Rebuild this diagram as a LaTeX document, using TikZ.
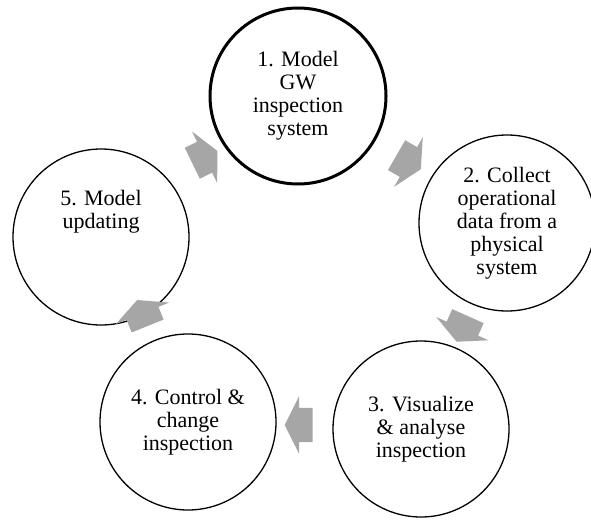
\documentclass[tikz,border=0pt]{standalone}
\usepackage{fontspec}
\setmainfont{Liberation Serif}
\newfontfamily\stageFamily{Liberation Serif}
\usepackage{tikz}
\usetikzlibrary{shapes.arrows}
\definecolor{arrowgray}{RGB}{166,166,166}
\newcommand{\stageSize}{176pt}
\newcommand{\stageFont}{\stageFamily\fontsize{22}{23}\selectfont}

\begin{document}
\begin{tikzpicture}[x=1pt, y=-1pt,
		stage/.style={circle, draw, line width=1.3pt, minimum size=\stageSize, inner sep=0pt, align=center, font=\stageFont},
		cyclearrow/.style={single arrow, fill=arrowgray, draw=none, inner xsep=0pt, inner ysep=17pt, minimum height=28pt, single arrow head extend=11.5pt, single arrow tip angle=127}]
		\useasboundingbox (0,0) rectangle (591,519);
		% the five stages
		\node[stage, line width=3pt] (model) at (298,96) {1. Model\\GW\\inspection\\system};
		\node[stage] (collect) at (507,223) {2. Collect\\operational\\data from a\\physical\\system};
		\node[stage] (visual) at (421,429) {3. Visualize\\\& analyse\\inspection};
		\node[stage] (control) at (188,422) {4. Control \&\\change\\inspection};
		\node[stage, text depth=55pt] (update) at (101,237) {5. Model\\updating};
		% arrows of the cycle
		\node[cyclearrow, rotate=-30] (modelcollect) at (405,160) {};
		\node[cyclearrow, rotate=-114] (collectvisual) at (464,325) {};
		\node[cyclearrow, rotate=180] (visualcontrol) at (303,425) {};
		\node[cyclearrow, rotate=112] (controlupdate) at (144,317) {};
		\node[cyclearrow, rotate=26] (updatemodel) at (201,159) {};
	\end{tikzpicture}
\end{document}
